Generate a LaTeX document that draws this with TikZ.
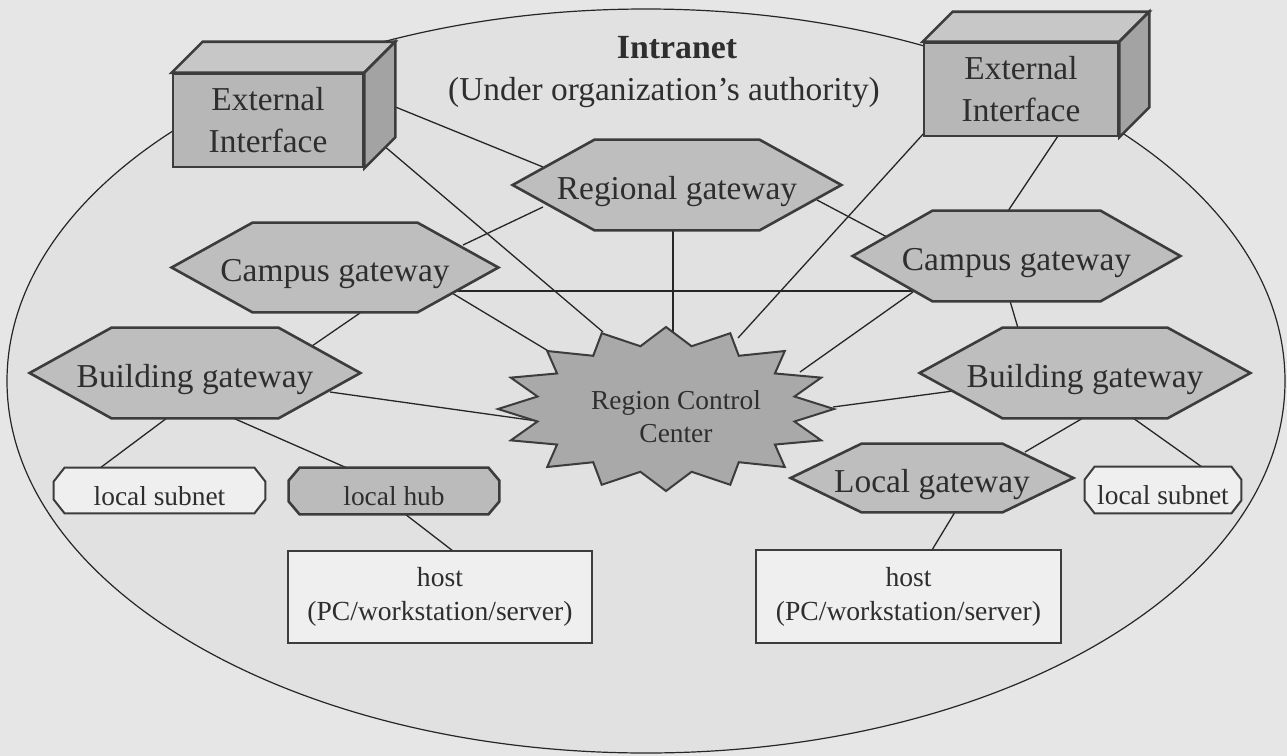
\documentclass[tikz,border=0pt]{standalone}
\usepackage{fontspec}
\setmainfont{Liberation Serif}
\usetikzlibrary{calc}
\pgfdeclarelayer{bg}
\pgfdeclarelayer{edges}
\pgfdeclarelayer{shapes}
\pgfsetlayers{bg,edges,shapes,main}

\definecolor{bgcol}{HTML}{E6E6E6}
\definecolor{ellcol}{HTML}{E1E1E1}
\definecolor{hexcol}{HTML}{BEBEBE}
\definecolor{linecol}{HTML}{262626}
\definecolor{edgecol}{HTML}{3C3C3C}
\definecolor{frontcol}{HTML}{B7B7B7}
\definecolor{topcol}{HTML}{C7C7C7}
\definecolor{sidecol}{HTML}{A3A3A3}
\definecolor{starcol}{HTML}{A9A9A9}
\definecolor{lightcol}{HTML}{EFEFEF}
\definecolor{hubcol}{HTML}{BBBBBB}
\definecolor{txtcol}{HTML}{2E2E2E}

\tikzset{
  bigfont/.style={font=\fontsize{16.7}{21}\selectfont},
  smallfont/.style={font=\fontsize{13.7}{16.5}\selectfont},
  hexnode/.style={bigfont, inner sep=0pt, text height=14pt, text depth=0pt, text=txtcol},
  hexdraw/.style={fill=hexcol, draw=edgecol, line width=1.3pt, line join=miter},
  subnode/.style={smallfont, inner sep=0pt, text height=14.5pt, text depth=0pt, text=txtcol},
  octlight/.style={fill=lightcol, draw=edgecol, line width=1pt},
  octdark/.style={fill=hubcol, draw=edgecol, line width=1.3pt},
  eibox/.style={bigfont, align=center, inner sep=0pt, fill=frontcol, draw=edgecol, line width=1.3pt, text=txtcol},
  topface/.style={fill=topcol, draw=edgecol, line width=1.3pt, line join=miter},
  sideface/.style={fill=sidecol, draw=edgecol, line width=1.3pt, line join=miter},
  stardraw/.style={fill=starcol, draw=edgecol, line width=1pt, line join=miter},
  hostbox/.style={font=\fontsize{13.8}{17}\selectfont, align=center, inner sep=0pt, fill=lightcol, draw=edgecol, line width=0.9pt, text=txtcol},
  rcctext/.style={smallfont, align=center, inner sep=0pt, text=txtcol},
  conn/.style={draw=linecol, line width=0.65pt}
}

\newcommand\drawhex[2]{%
  \begin{pgfonlayer}{shapes}
  \path[hexdraw] (#1.west) -- ($(#1.north west)+(#2,0)$) -- ($(#1.north east)+(-#2,0)$) -- (#1.east)
     -- ($(#1.south east)+(-#2,0)$) -- ($(#1.south west)+(#2,0)$) -- cycle;
  \end{pgfonlayer}}
\newcommand\drawoct[4]{%
  \begin{pgfonlayer}{shapes}
  \path[#4] ($(#1.north west)+(#2,0)$) -- ($(#1.north east)+(-#2,0)$) -- ($(#1.north east)+(0,#3)$)
     -- ($(#1.south east)+(0,-#3)$) -- ($(#1.south east)+(-#2,0)$) -- ($(#1.south west)+(#2,0)$)
     -- ($(#1.south west)+(0,-#3)$) -- ($(#1.north west)+(0,#3)$) -- cycle;
  \end{pgfonlayer}}
\newcommand\drawbox[2]{%
  \begin{pgfonlayer}{shapes}
  \path[topface] (#1.north west) -- ++(#2,-#2) -- ($(#1.north east)+(#2,-#2)$) -- (#1.north east) -- cycle;
  \path[sideface] (#1.north east) -- ++(#2,-#2) -- ($(#1.south east)+(#2,-#2)$) -- (#1.south east) -- cycle;
  \end{pgfonlayer}}

\begin{document}
\begin{tikzpicture}[x=0.5pt,y=-0.5pt]
\useasboundingbox (0,0) rectangle (1287,756);
\begin{pgfonlayer}{bg}
\fill[bgcol] (0,0) rectangle (1287,756);
\draw[fill=ellcol, draw=linecol, line width=0.6pt] (646,381) ellipse [x radius=319.5pt, y radius=186pt];
\end{pgfonlayer}

% titles
\node[font={\fontsize{16.9}{21}\selectfont\bfseries}, anchor=base, text=txtcol] (title) at (677,58) {Intranet};
\node[bigfont, anchor=base, text=txtcol] (subtitle) at (664,100) {(Under organization’s authority)};

% external interfaces
\node[eibox, minimum width=95pt, minimum height=46.5pt] (lei) at (268,120.5) {External\\Interface};
\drawbox{lei}{31}
\node[eibox, minimum width=97pt, minimum height=46.5pt] (rei) at (1021,89.5) {External\\Interface};
\drawbox{rei}{30}

% hexagon gateways
\node[hexnode, minimum width=164pt, minimum height=45pt] (rg) at (677,185) {Regional gateway};
\drawhex{rg}{82}
\node[hexnode, minimum width=163pt, minimum height=44.5pt] (lcg) at (335,267.5) {Campus gateway};
\drawhex{lcg}{81}
\node[hexnode, minimum width=163.5pt, minimum height=45pt] (rcg) at (1016.5,256) {Campus gateway};
\drawhex{rcg}{80}
\node[hexnode, minimum width=165pt, minimum height=45pt] (lbg) at (195,373) {Building gateway};
\drawhex{lbg}{82}
\node[hexnode, minimum width=165pt, minimum height=45pt] (rbg) at (1085,373) {Building gateway};
\drawhex{rbg}{83}
\node[hexnode, minimum width=141pt, minimum height=34pt] (lg) at (932,478) {Local gateway};
\drawhex{lg}{71}

% region control center
\node[rcctext] (rcc) at (676,417) {Region Control\\Center};
\begin{pgfonlayer}{shapes}
\path[stardraw] plot[samples at={0,...,31}, variable=\k]
  ({666+ifthenelse(mod(\k,2)==0,168,131)*sin(\k*11.25)}, {409-ifthenelse(mod(\k,2)==0,82,64)*cos(\k*11.25)}) -- cycle;
\end{pgfonlayer}

% local subnets and hub
\node[subnode, minimum width=105.5pt, minimum height=22.5pt] (lls) at (159.5,490.5) {local subnet};
\drawoct{lls}{11}{14}{octlight}
\node[subnode, minimum width=105pt, minimum height=23pt] (lh) at (394,491) {local hub};
\drawoct{lh}{11}{13}{octdark}
\node[subnode, minimum width=78pt, minimum height=23pt] (rls) at (1163,490) {local subnet};
\drawoct{rls}{10}{13}{octlight}

% hosts
\node[hostbox, minimum width=152pt, minimum height=46pt] (lhost) at (440,597) {host\\(PC/workstation/server)};
\node[hostbox, minimum width=152.5pt, minimum height=46.5pt] (rhost) at (908.5,596.5) {host\\(PC/workstation/server)};

% connectors
\begin{pgfonlayer}{edges}
\draw[conn] ($(lei)+(125,-14.5)$) -- ($(rg)+(-134,-18)$);
\draw[conn] ($(lei)+(115,24.5)$) -- ($(rcc)+(-73,-85)$);
\draw[conn] ($(rei)+(-96,42.5)$) -- ($(rcc)+(62,-79)$);
\draw[conn] ($(rei)+(37,46.5)$) -- ($(rcg)+(-8.5,-45)$);
\draw[conn] ($(rg)+(-134,22)$) -- ($(lcg)+(128,-22.5)$);
\draw[conn] ($(rg)+(-4,40)$) -- ($(rcc)+(-3,-80)$);
\draw[conn] ($(rg)+(140,15)$) -- ($(rcg)+(-129.5,-19)$);
\draw[conn] ($(lcg)+(122,23.5)$) -- ($(rcg)+(-102.5,35)$);
\draw[conn] ($(lcg)+(117,25.5)$) -- ($(rcc)+(-126,-65)$);
\draw[conn] ($(lcg)+(25,45.5)$) -- ($(lbg)+(117,-27)$);
\draw[conn] ($(rcg)+(-103.5,36)$) -- ($(rcc)+(124,-45)$);
\draw[conn] ($(rcg)+(-6.5,45)$) -- ($(rbg)+(-67,-45)$);
\draw[conn] ($(lbg)+(135,19)$) -- ($(rcc)+(-139,4)$);
\draw[conn] ($(lbg)+(-28,45)$) -- ($(lls)+(-59.5,-22.5)$);
\draw[conn] ($(lbg)+(38,45)$) -- ($(lh)+(-47,-23)$);
\draw[conn] ($(rbg)+(-132,18)$) -- ($(rcc)+(157,-10)$);
\draw[conn] ($(rbg)+(-2,45)$) -- ($(lg)+(93,-26)$);
\draw[conn] ($(rbg)+(48,45)$) -- ($(rls)+(39,-23)$);
\draw[conn] ($(lh)+(11,23)$) -- ($(lhost)+(13,-46)$);
\draw[conn] ($(lg)+(23,34)$) -- ($(rhost)+(23.5,-46.5)$);
\end{pgfonlayer}
\end{tikzpicture}
\end{document}
